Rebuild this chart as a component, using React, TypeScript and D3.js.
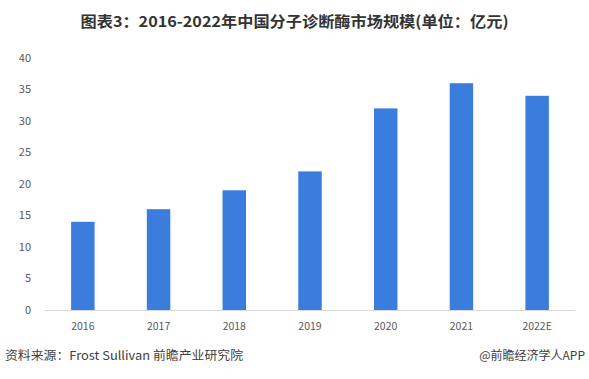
import React from "react";
import * as d3 from "d3";

const categories = ["2016", "2017", "2018", "2019", "2020", "2021", "2022E"];
const values = [14, 16, 19, 22, 32, 36, 34];
const yTicks = [0, 5, 10, 15, 20, 25, 30, 35, 40];
const title = "图表3：2016-2022年中国分子诊断酶市场规模(单位：亿元)";
const sourceText = "资料来源：Frost Sullivan 前瞻产业研究院";
const brandText = "@前瞻经济学人APP";

const W = 589;
const H = 379;
const FONT = "'Noto Sans CJK SC', 'Noto Sans', sans-serif";

export default function App() {
  const x = d3.scaleBand<string>().domain(categories).range([45, 575]).paddingInner(0.69).paddingOuter(0.345);
  const y = d3.scaleLinear().domain([0, 40]).range([310, 58]);

  return (
    <div style={{ position: "fixed", left: 0, top: 0, width: W, height: H, background: "#fff" }}>
      <svg width={W} height={H} style={{ display: "block" }}>
        <rect x={0} y={0} width={W} height={H} fill="#fff" />
        <text x={W / 2} y={27} textAnchor="middle" fontFamily={FONT} fontWeight="bold" fontSize={15} fill="#333" textLength={428} lengthAdjust="spacingAndGlyphs">
          {title}
        </text>
        {yTicks.map((t) => (
          <text key={t} x={31} y={y(t)} dy="0.35em" textAnchor="end" fontFamily={FONT} fontSize={11} fill="#595959">
            {t}
          </text>
        ))}
        {categories.map((c, i) => (
          <rect key={c} x={x(c)} y={y(values[i])} width={x.bandwidth()} height={y(0) - y(values[i])} fill="#3b7ddd" />
        ))}
        <line x1={45} x2={575} y1={y(0) + 0.5} y2={y(0) + 0.5} stroke="#d9d9d9" strokeWidth={1} />
        {categories.map((c) => (
          <text key={c} x={(x(c) as number) + x.bandwidth() / 2} y={326} dy="0.35em" textAnchor="middle" fontFamily={FONT} fontSize={10.5} fill="#595959">
            {c}
          </text>
        ))}
        <text x={5} y={356} dy="0.35em" fontFamily={FONT} fontSize={12} fill="#404040" textLength={238} lengthAdjust="spacingAndGlyphs">
          {sourceText}
        </text>
        <text x={585} y={356} dy="0.35em" textAnchor="end" fontFamily={FONT} fontSize={12} fill="#404040">
          {brandText}
        </text>
      </svg>
    </div>
  );
}
